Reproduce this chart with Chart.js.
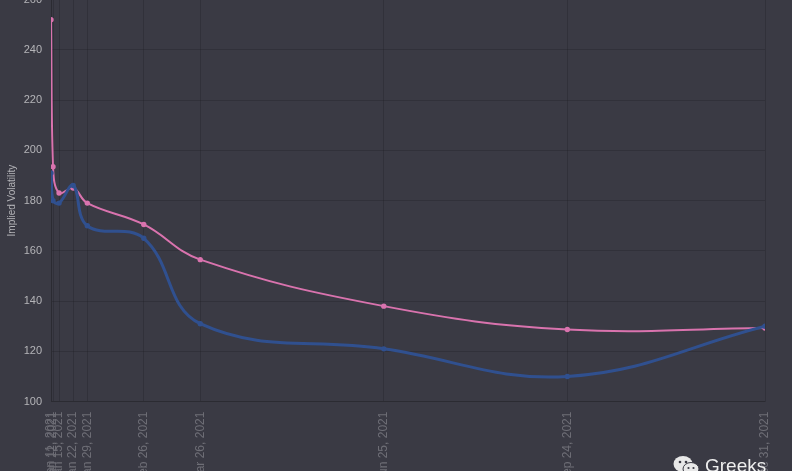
<!DOCTYPE html>
<html>
<head>
<meta charset="utf-8">
<script src="https://cdn.jsdelivr.net/npm/chart.js@4/dist/chart.umd.min.js"></script>
<style>
  html, body { margin: 0; height: 100%; background: #3a3a44; overflow: hidden; }
  #wrap { position: absolute; left: 0; top: -15.6px; width: 792px; height: 500px; }
  #mark { position: absolute; left: 673px; top: 455px; display: flex; align-items: center; color: #eeeeee;
          font: 19px "Liberation Sans", sans-serif; white-space: nowrap; }
  #mark svg { margin-right: 6px; }
</style>
</head>
<body>
<div id="wrap"><canvas id="myChart"></canvas></div>
<div id="mark">
  <svg width="26" height="20" viewBox="0 0 26 20">
    <ellipse cx="10" cy="8" rx="9.5" ry="8" fill="#e8e8e8"/>
    <ellipse cx="18" cy="13" rx="8" ry="6.5" fill="#e8e8e8" stroke="#3a3a44" stroke-width="1"/>
    <circle cx="7" cy="6" r="1.3" fill="#3a3a44"/><circle cx="13" cy="6" r="1.3" fill="#3a3a44"/>
    <circle cx="15.5" cy="12" r="1.1" fill="#3a3a44"/><circle cx="20.5" cy="12" r="1.1" fill="#3a3a44"/>
  </svg>
  <span>Greeks</span>
</div>
<script>
const expiries = ['Jan 11, 2021', 'Jan 12, 2021', 'Jan 15, 2021', 'Jan 22, 2021', 'Jan 29, 2021',
    'Feb 26, 2021', 'Mar 26, 2021', 'Jun 25, 2021', 'Sep 24, 2021', 'Dec 31, 2021'];
const ivPink = [252, 193.5, 183, 185, 179, 170.5, 156.5, 138, 128.7, 129.3];
const ivBlue = [191, 180, 179, 186, 170, 165, 131, 121, 110, 130];
const yTicks = [100, 120, 140, 160, 180, 200, 220, 240, 260];

const toDay = (label) => Date.parse(label + ' UTC') / 86400000;
const dayLabels = {};
expiries.forEach((label) => { dayLabels[toDay(label)] = label; });
const toPoints = (values) => values.map((v, i) => ({ x: toDay(expiries[i]), y: v }));

const gridColor = 'rgba(28, 28, 34, 0.28)';

const ctx = document.getElementById('myChart').getContext('2d');
new Chart(ctx, {
    type: 'line',
    data: {
        datasets: [{
            label: 'Blue',
            data: toPoints(ivBlue),
            borderColor: '#30508f',
            backgroundColor: '#30508f',
            borderWidth: 3,
            pointRadius: 1.2,
            tension: 0.4,
            fill: false
        }, {
            label: 'Pink',
            data: toPoints(ivPink),
            borderColor: '#d973ae',
            backgroundColor: '#d973ae',
            borderWidth: 2,
            pointRadius: 1.7,
            tension: 0.4,
            fill: false
        }]
    },
    options: {
        responsive: true,
        maintainAspectRatio: false,
        animation: false,
        layout: { padding: { top: 0, right: 27, bottom: 0, left: 0 } },
        plugins: { legend: { display: false }, tooltip: { enabled: false } },
        scales: {
            x: {
                type: 'linear',
                min: toDay(expiries[0]),
                max: toDay(expiries[expiries.length - 1]),
                afterBuildTicks: (axis) => { axis.ticks = expiries.map((l) => ({ value: toDay(l) })); },
                afterFit: (axis) => { axis.height = 82.4; },
                grid: { color: gridColor, drawTicks: false },
                border: { color: gridColor },
                ticks: {
                    autoSkip: false,
                    minRotation: 90,
                    maxRotation: 90,
                    padding: 10,
                    color: '#6e6e76',
                    font: { size: 12, family: '"Liberation Sans", sans-serif' },
                    callback: (value) => dayLabels[value]
                }
            },
            y: {
                min: 100,
                max: 260,
                afterBuildTicks: (axis) => { axis.ticks = yTicks.map((v) => ({ value: v })); },
                afterFit: (axis) => { axis.width = 51; },
                grid: { color: gridColor, drawTicks: false },
                border: { color: gridColor },
                title: {
                    display: true,
                    text: 'Implied Volatility',
                    color: '#b4b4b8',
                    padding: { top: 6, bottom: 0 },
                    font: { size: 10, family: '"Liberation Sans", sans-serif' }
                },
                ticks: {
                    padding: 9,
                    color: '#b4b4b8',
                    font: { size: 11, family: '"Liberation Sans", sans-serif' }
                }
            }
        }
    }
});
</script>
</body>
</html>
